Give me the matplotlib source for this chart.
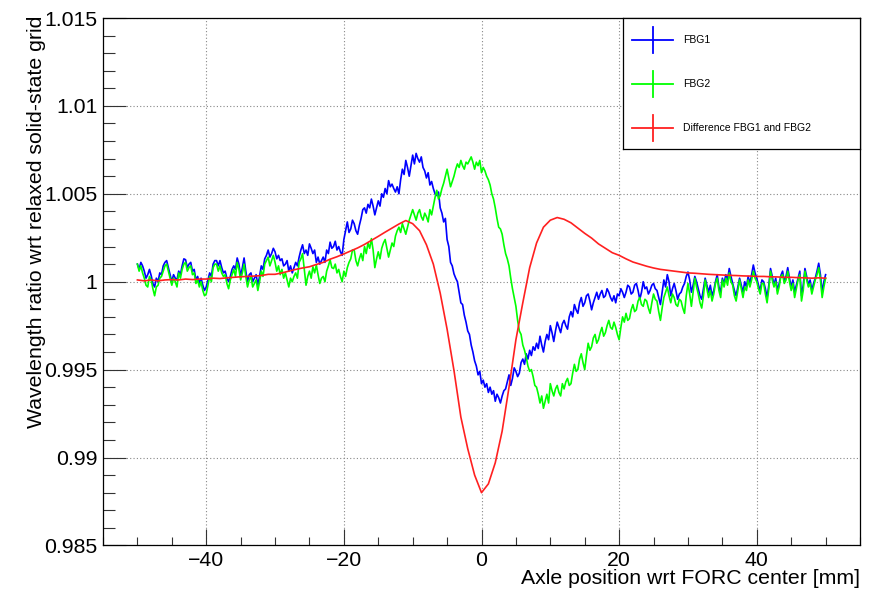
"""
FBG wavelength ratio scan along the axle (FBG1, FBG2 and their difference).
Values are stored as (ratio - 1) in units of 1e-3.
"""
import numpy as np
import matplotlib
matplotlib.use("Agg")
import matplotlib.pyplot as plt
from matplotlib.ticker import MultipleLocator, FuncFormatter

plt.rcParams["font.family"] = ["Liberation Sans", "DejaVu Sans"]

# scan positions [mm]
pos_fbg = np.linspace(-50, 50, 401)   # 0.25 mm steps
pos_diff = np.linspace(-50, 50, 101)  # 1 mm steps

# FBG1, (ratio - 1) * 1e3, one row per mm
fbg1 = [
    1.0, 0.7, 1.1, 0.9,
    0.6, 0.2, 0.4, 0.7,
    0.35, -0.1, -0.3, 0.2,
    0.0, 0.5, 0.4, 0.9,
    1.1, 1.2, 0.8, 0.4,
    0.0, 0.4, 0.2, 0.1,
    0.6, 0.4, 0.9, 1.3,
    1.25, 0.8, 1.0, 1.1,
    0.6, 0.7, 0.1, 0.3,
    -0.1, 0.2, -0.2, -0.5,
    -0.3, 0.1, 0.5, 0.3,       # -40
    1.0, 1.2, 1.2, 0.9,
    1.2, 0.8, 0.5, 0.6,
    0.2, 0.0, 0.3, 0.7,
    0.9, 0.7, 1.35, 1.0,
    0.3, 0.8, 1.35, 0.6,
    0.0, 0.4, 0.5, 0.0,
    0.2, 0.4, -0.2, 0.3,
    0.9, 0.7, 1.3, 1.5,
    1.8, 1.4, 1.6, 1.9,
    1.7, 1.3, 1.5, 1.2,        # -30
    1.3, 0.9, 1.0, 1.2,
    0.6, 0.9, 0.5, 0.8,
    1.1, 0.9, 1.4, 1.8,
    2.1, 1.6, 1.8, 1.5,
    2.15, 1.9, 1.6, 1.8,
    1.1, 1.4, 1.0, 1.2,
    1.4, 1.1, 1.8, 1.6,
    2.25, 1.9, 2.0, 2.3,
    1.8, 2.0, 1.7, 1.5,
    2.4, 2.9, 3.4, 2.8,        # -20
    3.0, 3.5, 3.3, 2.9,
    2.7, 3.2, 3.6, 4.1,
    4.2, 3.9, 4.4, 4.2,
    4.7, 4.3, 3.8, 4.2,
    4.6, 4.3, 5.0, 4.8,
    5.3, 5.0, 5.75, 5.4,
    5.55, 5.3, 5.1, 5.4,
    5.0, 5.8, 6.4, 6.1,
    6.9, 6.5, 6.0, 6.6,
    7.2, 6.7, 7.3, 7.0,        # -10
    6.8, 7.1, 6.5, 6.3,
    5.9, 6.2, 5.5, 5.7,
    5.3, 5.0, 4.9, 5.1,
    4.2, 3.9, 3.4, 3.6,
    2.4, 2.0, 1.1, 0.9,
    0.45, 0.2, 0.0, -0.6,
    -1.2, -1.3, -1.9, -2.3,
    -2.8, -3.0, -3.6, -4.0,
    -4.5, -4.8, -5.3, -5.1,
    -5.8, -5.6, -6.0, -5.8,    # 0
    -6.3, -6.0, -6.4, -6.2,
    -6.8, -6.4, -6.6, -6.9,
    -6.5, -6.2, -6.1, -5.7,
    -5.3, -5.9, -5.5, -4.9,
    -5.1, -5.4, -5.2, -4.6,
    -4.4, -4.7, -4.1, -4.4,
    -3.9, -4.2, -3.7, -3.9,
    -3.5, -3.8, -3.1, -3.6,
    -4.0, -3.4, -3.0, -3.3,
    -2.5, -2.9, -3.4, -2.8,    # 10
    -2.3, -2.6, -2.9, -2.4,
    -2.2, -2.5, -2.7, -2.0,
    -1.7, -2.0, -1.3, -1.6,
    -1.8, -1.2, -0.9, -1.4,
    -1.2, -0.8, -0.7, -1.1,
    -1.6, -1.2, -0.9, -0.6,
    -1.0, -0.7, -0.5, -0.9,
    -0.8, -0.4, -0.6, -0.9,
    -1.1, -0.8, -1.2, -0.7,
    -0.8, -0.4, -0.6, -0.9,    # 20
    -0.6, -0.2, -0.3, -0.7,
    -0.6, -0.2, -0.1, -0.5,
    -1.0, -0.6, 0.0, -0.4,
    -0.3, -0.7, -0.5, -0.2,
    -0.1, -0.4, -0.5, -0.9,
    -1.3, -0.6, 0.1, -0.3,
    0.4, 0.0, -0.8, -0.4,
    -0.1, -0.5, -1.0, -0.7,
    -0.6, -0.3, -0.1, 0.3,
    0.55, 0.1, -0.6, -0.2,     # 30
    0.3, 0.0, -0.4, -0.8,
    -1.0, -0.4, 0.2, -0.2,
    -0.6, -0.2, -0.8, -0.5,
    0.0, 0.4, -0.3, -0.6,
    0.2, -0.1, 0.4, 0.1,
    0.75, 0.3, -0.1, -0.5,
    -0.8, -0.3, 0.2, -0.2,
    -0.6, 0.0, -0.3, 0.3,
    -0.1, 0.4, 0.95, 0.5,
    0.2, -0.2, -0.5, 0.1,      # 40
    0.0, -0.4, -0.9, -0.2,
    0.75, 0.3, -0.2, 0.2,
    -0.5, -0.1, 0.35, 0.6,
    0.0, 0.3, 0.8, 0.2,
    -0.3, 0.1, -0.6, -0.2,
    0.2, 0.6, -0.8, -0.2,
    0.75, 0.3, -0.2, 0.1,
    -0.5, -0.1, 0.2, 0.6,
    1.05, 0.4, -0.6, 0.0,
    0.4,                       # 50
]

# FBG2, (ratio - 1) * 1e3, one row per mm
fbg2 = [
    1.0, 0.6, 0.9, 0.5,
    0.2, -0.2, -0.3, 0.3,
    0.1, -0.4, -0.8, -0.3,
    -0.2, 0.2, 0.3, 0.6,
    0.9, 1.0, 0.6, 0.2,
    -0.2, 0.2, 0.0, -0.3,
    0.5, 0.2, 0.7, 1.0,
    1.1, 0.6, 0.8, 0.9,
    0.4, 0.5, -0.1, 0.1,
    -0.3, 0.0, -0.5, -0.8,
    -0.7, -0.2, 0.3, 0.0,      # -40
    0.8, 1.0, 1.0, 0.6,
    0.9, 0.5, 0.3, 0.4,
    -0.1, -0.4, 0.1, 0.4,
    0.7, 0.3, 1.1, 0.7,
    0.1, 0.5, 1.0, 0.3,
    -0.3, 0.1, 0.3, -0.3,
    -0.1, 0.1, -0.5, 0.0,
    0.6, 0.3, 1.0, 1.2,
    1.4, 0.9, 1.2, 1.5,
    1.1, 0.6, 0.9, 0.4,        # -30
    0.7, 0.2, 0.5, 0.1,
    -0.3, 0.2, 0.0, 0.3,
    0.5, 0.2, 1.1, 1.3,
    1.6, 0.7, -0.2, 0.3,
    0.6, 0.2, 0.85, 0.5,
    0.95, 0.4, -0.1, 0.2,
    0.3, 0.0, 0.6, 0.9,
    1.25, 0.8, 0.75, 1.0,
    0.5, 0.7, 0.3, 0.0,
    0.6, 0.3, 0.8, 1.1,        # -20
    1.3, 1.8, 1.8, 1.2,
    0.9, 1.3, 1.6, 1.2,
    2.0, 1.6, 2.2, 1.9,
    2.45, 1.8, 0.8, 1.3,
    1.7, 1.3, 1.9, 2.2,
    2.4, 1.9, 1.4, 1.8,
    2.2, 2.0, 2.6, 2.9,
    3.1, 2.8, 3.3, 3.0,
    2.7, 3.1, 3.5, 3.8,
    4.1, 3.8, 3.5, 3.9,        # -10
    4.1, 3.7, 3.5, 3.9,
    3.7, 3.4, 4.1, 3.8,
    4.3, 4.8, 5.2, 4.7,
    4.9, 5.3, 5.6, 6.0,
    6.4, 5.9, 5.4, 5.7,
    6.0, 6.4, 6.7, 6.5,
    6.9, 6.6, 6.4, 6.8,
    6.7, 6.9, 7.1, 6.8,
    6.4, 6.8, 6.6, 6.9,
    6.2, 6.5, 6.3, 6.0,        # 0
    5.8, 5.5, 5.0, 4.7,
    4.2, 3.6, 3.1, 3.0,
    2.7, 2.1, 1.6, 1.3,
    0.9, 0.2, -0.4, -0.9,
    -1.4, -2.2, -2.8, -3.0,
    -3.6, -3.9, -4.3, -4.8,
    -5.1, -5.0, -5.4, -5.9,
    -6.0, -6.4, -6.9, -6.5,
    -7.2, -6.8, -6.4, -6.9,
    -5.8, -6.2, -6.5, -6.1,    # 10
    -5.9, -6.3, -6.5, -5.8,
    -6.1, -5.7, -5.5, -5.9,
    -5.8, -5.2, -4.7, -5.1,
    -5.0, -4.4, -4.1, -4.6,
    -5.0, -4.2, -3.5, -3.9,
    -3.7, -3.2, -3.0, -3.5,
    -3.3, -2.9, -2.6, -3.1,
    -2.9, -2.5, -2.2, -2.6,
    -2.7, -2.3, -2.6, -3.0,
    -3.3, -2.6, -2.0, -2.3,    # 20
    -1.8, -2.2, -2.1, -1.6,
    -1.3, -1.7, -1.6, -1.1,
    -0.9, -1.3, -1.4, -1.0,
    -1.1, -1.5, -1.8, -1.2,
    -0.7, -1.0, -1.1, -1.7,
    -2.2, -1.5, -0.9, -0.6,
    -0.3, -0.8, -1.2, -0.7,
    -0.9, -1.3, -1.4, -1.0,
    -1.1, -1.5, -1.8, -0.8,
    -0.1, -0.7, -1.4, -0.6,    # 30
    0.2, -0.3, -0.7, -1.2,
    -1.5, -0.8, 0.1, -0.4,
    -0.9, -0.5, -1.1, -0.7,
    -0.1, 0.2, -0.5, -0.9,
    0.1, -0.3, 0.2, -0.2,
    0.5, 0.0, -0.2, -0.8,
    -1.1, -0.5, 0.1, -0.4,
    -0.9, -0.3, -0.5, 0.1,
    -0.3, 0.1, 0.6, 0.2,
    0.0, -0.4, -0.7, -0.1,     # 40
    -0.1, -0.7, -1.2, -0.4,
    0.6, 0.1, -0.3, 0.0,
    -0.7, -0.3, 0.3, 0.4,
    -0.1, 0.1, 0.6, 0.0,
    -0.5, -0.1, -0.9, -0.4,
    0.1, 0.4, -1.1, -0.5,
    0.6, 0.1, -0.3, -0.1,
    -0.7, -0.3, 0.1, 0.4,
    0.8, 0.1, -0.9, -0.3,
    0.2,                       # 50
]

# difference FBG1 - FBG2, (ratio - 1) * 1e3, one value per mm
diff = [
    0.1, 0.05, 0.1, 0.05, 0.1, 0.12, 0.1, 0.15, 0.12, 0.15,
    0.15, 0.2, 0.18, 0.22, 0.25, 0.28, 0.3, 0.32, 0.35, 0.42,
    0.42, 0.5, 0.6, 0.7, 0.78, 0.85, 0.98, 1.1, 1.28, 1.42,
    1.58, 1.75, 1.92, 2.12, 2.35, 2.58, 2.82, 3.05, 3.28, 3.48,
    3.3, 2.9, 2.1, 1.0, -0.65, -2.7, -5.05, -7.7, -9.5, -11.0,
    -12.0, -11.5, -10.3, -8.5, -6.0, -3.3, -1.2, 0.8, 2.2, 3.1,
    3.5, 3.65, 3.55, 3.35, 3.05, 2.75, 2.48, 2.15, 1.9, 1.65,
    1.5, 1.3, 1.12, 1.0, 0.88, 0.78, 0.7, 0.65, 0.6, 0.55,
    0.5, 0.48, 0.45, 0.42, 0.4, 0.38, 0.36, 0.35, 0.33, 0.32,
    0.3, 0.3, 0.28, 0.27, 0.25, 0.25, 0.23, 0.22, 0.2, 0.22,
    0.2,
]

labels = ["FBG1", "FBG2", "Difference FBG1 and FBG2"]
colors = ["#0000ff", "#00ff00", "#ff2020"]

W, H = 872, 599
FS = 15.3
fig = plt.figure(figsize=(W / 100, H / 100), dpi=100)
ax = fig.add_axes([103 / W, (H - 545.4) / H, 757 / W, 527.4 / H])

series = [(pos_fbg, fbg1), (pos_fbg, fbg2), (pos_diff, diff)]
for (xs, vals), c in zip(series, colors):
    ax.plot(xs, 1 + np.asarray(vals) / 1000, color=c, lw=1.2)

ax.set_xlim(-55, 55)
ax.set_ylim(0.985, 1.015)

ax.xaxis.set_major_locator(MultipleLocator(20))
ax.xaxis.set_minor_locator(MultipleLocator(5))
ax.yaxis.set_major_locator(MultipleLocator(0.005))
ax.yaxis.set_minor_locator(MultipleLocator(0.001))

fmt = FuncFormatter(lambda v, p: ("%g" % round(v, 6)).replace("-", "\u2212"))
ax.xaxis.set_major_formatter(fmt)
ax.yaxis.set_major_formatter(fmt)

ax.tick_params(axis="both", which="both", direction="in", top=False, right=False,
               width=0.8, color="#333333", labelsize=FS, pad=4)
ax.tick_params(axis="x", which="major", length=11.5)
ax.tick_params(axis="x", which="minor", length=5.8)
ax.tick_params(axis="y", which="major", length=16.5)
ax.tick_params(axis="y", which="minor", length=8.3)

ax.grid(True, which="major", color="#888888", linestyle=(0, (1, 2)), lw=0.8)
for sp in ax.spines.values():
    sp.set_linewidth(0.9)

fig.text(37 / W, (H - 16) / H, "Wavelength ratio wrt relaxed solid-state grid",
         rotation=90, ha="center", va="top", fontsize=FS)
fig.text(860 / W, (H - 579) / H, "Axle position wrt FORC center [mm]",
         ha="right", va="center", fontsize=FS)

# legend box drawn in pixel units
lg = fig.add_axes([623 / W, (H - 149) / H, 237 / W, 131 / H])
lg.set_xlim(0, 237)
lg.set_ylim(131, 0)
lg.set_xticks([])
lg.set_yticks([])
for sp in lg.spines.values():
    sp.set_linewidth(0.9)
for i, (lab, c) in enumerate(zip(labels, colors)):
    yc = 22 + i * 44
    lg.plot([9, 50], [yc, yc], color=c, lw=1.3)
    lg.plot([29.5, 29.5], [yc - 13, yc + 13], color=c, lw=1.3)
    lg.text(60, yc, lab, ha="left", va="center", fontsize=7.5)

fig.savefig("out.png", dpi=100)
